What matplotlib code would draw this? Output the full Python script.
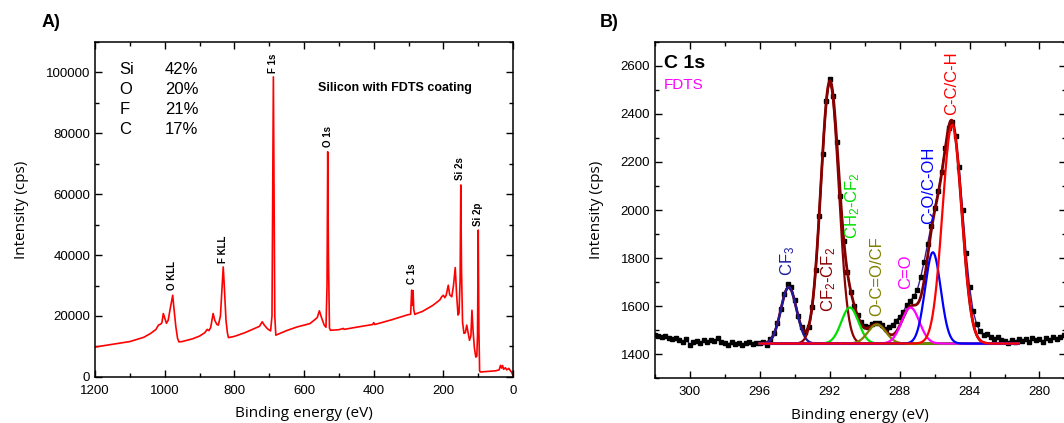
import numpy as np
import matplotlib
matplotlib.use("Agg")
import matplotlib.pyplot as plt
from matplotlib.ticker import MultipleLocator

plt.rcParams['font.family'] = ['Liberation Sans', 'DejaVu Sans']
plt.rcParams['mathtext.fontset'] = 'custom'
plt.rcParams['mathtext.rm'] = 'Liberation Sans'
plt.rcParams['mathtext.it'] = 'Liberation Sans:italic'

# ---------- A) survey spectrum (points read off the figure) ----------
survey_ev = [1200, 1150, 1100, 1060, 1040, 1025, 1018, 1012, 1008, 1004, 999, 995, 990,
             984, 977, 973, 968, 963, 959, 950, 920, 900, 885, 878, 873, 868, 861, 856,
             850, 846, 840, 836, 832, 829, 824, 820, 817, 800, 770, 740, 728, 720, 714,
             705, 696, 692, 690, 688, 686, 684, 681, 675, 650, 620, 583, 570, 562, 556,
             550, 542, 537, 534, 532, 530, 527, 524, 500, 487, 485, 450, 403, 400, 397,
             350, 305, 294, 291, 289, 287, 285, 282, 277, 260, 230, 210, 205, 200, 196,
             192, 186, 182, 176, 171, 166, 162, 158, 155, 152, 150, 148, 145, 141, 137,
             133, 129, 125, 121, 118, 115, 111, 107, 104, 102, 100, 98, 96, 94, 70, 50,
             40, 36, 33, 30, 27, 22, 18, 12, 8, 4, 0]
survey_cps = [9800, 10700, 11600, 13000, 14300, 15600, 17000, 17300, 17800, 20800, 19000, 17600, 18600,
              22500, 26800, 22000, 16500, 12600, 11500, 11600, 12500, 13400, 14500, 15600, 15200, 16200, 20800, 18500,
              17200, 17000, 20000, 28000, 36100, 30000, 18500, 14500, 12900, 13300, 14500, 16000, 16600, 18100, 17000,
              15800, 15100, 20000, 60000, 98500, 60000, 20000, 13700, 14000, 15200, 16400, 17500, 18700, 19500, 21700,
              19500, 17000, 16300, 30000, 73900, 40000, 16000, 15300, 15500, 15900, 15600, 16300, 17200, 17800, 17200,
              18700, 20300, 20600, 28500, 23500, 28300, 22000, 20500, 20800, 21500, 23500, 25300, 26300, 26800, 26000,
              26800, 30100, 27000, 26300, 30000, 35900, 27000, 20300, 21000, 32000, 63000, 35000, 18000, 14300, 14500,
              17000, 14500, 12000, 13500, 21900, 15500, 9500, 6500, 6800, 14000, 48200, 15000, 2000, 1600, 1800, 2000,
              2300, 3800, 2900, 3700, 2500, 3000, 2300, 2800, 2100, 1500, 400]

peak_names = ["O KLL", "F KLL", "F 1s", "O 1s", "C 1s", "Si 2s", "Si 2p"]
peak_label_ev = [980, 833, 689, 532, 289, 151, 100]
peak_label_cps = [28500, 37500, 99800, 75500, 30500, 64500, 49500]

elements = ["Si", "O", "F", "C"]
atomic_pct = ["42%", "20%", "21%", "17%"]
element_cps = [100900, 94300, 87800, 81200]

# ---------- B) C 1s high resolution (0.2 eV steps from 302 eV) ----------
c1s_start, c1s_step = 302.0, 0.2
c1s_cps = [1480, 1476, 1470, 1474, 1466, 1462, 1468, 1458, 1452, 1462,
           1438, 1452, 1455, 1448, 1458, 1452, 1460, 1456, 1468, 1450,
           1446, 1440, 1452, 1444, 1448, 1440, 1446, 1450, 1442, 1448,
           1446, 1450, 1440, 1462, 1488, 1530, 1590, 1650, 1690, 1680,
           1625, 1560, 1512, 1494, 1515, 1595, 1750, 1975, 2235, 2455,
           2545, 2475, 2285, 2060, 1870, 1740, 1660, 1602, 1562, 1532,
           1518, 1512, 1526, 1530, 1528, 1520, 1505, 1512, 1522, 1540,
           1555, 1575, 1605, 1620, 1640, 1665, 1720, 1785, 1860, 1935,
           2010, 2080, 2160, 2260, 2340, 2368, 2310, 2180, 2000, 1820,
           1680, 1580, 1525, 1495, 1478, 1482, 1472, 1462, 1470, 1458,
           1455, 1448, 1458, 1452, 1462, 1455, 1462, 1450, 1466, 1458,
           1464, 1452, 1468, 1460, 1470, 1462, 1472, 1478]

background_cps = 1444
fit_range = (296.0, 281.2)
comp_labels = ["CF$_3$", "CF$_2$-CF$_2$", "CH$_2$-CF$_2$", "O-C=O/CF", "C=O", "C-O/C-OH", "C-C/C-H"]
comp_center = [294.35, 292.0, 290.85, 289.3, 287.38, 286.1, 285.0]
comp_height = [235, 1085, 150, 80, 150, 380, 910]
comp_fwhm = [1.05, 1.2, 1.15, 1.2, 1.2, 1.05, 1.3]
comp_colors = ["#1c1ca0", "#8b0000", "#00e000", "#808000", "#ff00ff", "#0000ff", "#ff0000"]
comp_label_ev = [294.43, 292.04, 290.71, 289.29, 287.68, 286.35, 285.04]
comp_label_cps = [1727, 1574, 1880, 1560, 1671, 1940, 2394]

fig = plt.figure(figsize=(10.64, 4.23), dpi=100)
axA = fig.add_axes([0.0893, 0.109, 0.3929, 0.792])
axB = fig.add_axes([0.6156, 0.106, 0.3860, 0.795])

# panel A
axA.plot(survey_ev, survey_cps, color="red", lw=1.2)
axA.set_xlim(1200, 0)
axA.set_ylim(0, 110000)
axA.xaxis.set_major_locator(MultipleLocator(200))
axA.xaxis.set_minor_locator(MultipleLocator(100))
axA.yaxis.set_major_locator(MultipleLocator(20000))
axA.yaxis.set_minor_locator(MultipleLocator(10000))
for name, x, y in zip(peak_names, peak_label_ev, peak_label_cps):
    axA.text(x, y, name, rotation=90, ha="center", va="bottom", fontsize=7, fontweight="bold")
for el, pct, y in zip(elements, atomic_pct, element_cps):
    axA.text(1130, y, el, fontsize=12, va="center")
    axA.text(1000, y, pct, fontsize=12, va="center")
axA.text(338, 94900, "Silicon with FDTS coating", fontsize=9, fontweight="bold", ha="center", va="center")
axA.set_xlabel("Binding energy (eV)", family="Open Sans", fontsize=11, labelpad=7)
axA.set_ylabel("Intensity (cps)", family="Open Sans", fontsize=11, labelpad=12)

# panel B
energy = c1s_start - c1s_step * np.arange(len(c1s_cps))
axB.plot(energy, c1s_cps, color="#3d1f8f", lw=1.0, marker="s", ms=2.6,
         mfc="black", mec="black", zorder=2)
xfit = np.linspace(fit_range[0], fit_range[1], 600)
comps = [h * np.exp(-4 * np.log(2) * (xfit - c) ** 2 / w ** 2)
         for c, h, w in zip(comp_center, comp_height, comp_fwhm)]
axB.plot(xfit, background_cps + np.sum(comps, axis=0), color="#800000", lw=2.0, zorder=3)
axB.plot(xfit, np.full_like(xfit, background_cps), color="#000080", lw=1.5, zorder=3)
for comp, col in zip(comps, comp_colors):
    axB.plot(xfit, background_cps + comp, color=col, lw=1.6, zorder=4)
for lab, x, y, col in zip(comp_labels, comp_label_ev, comp_label_cps, comp_colors):
    axB.text(x, y, lab, rotation=90, ha="center", va="bottom", fontsize=12, color=col, zorder=5)
axB.text(301.5, 2610, "C 1s", fontsize=14, fontweight="bold", va="center")
axB.text(301.5, 2519, "FDTS", fontsize=11, color="#ff00ff", va="center")
axB.set_xlim(302, 278.5)
axB.set_ylim(1300, 2700)
axB.xaxis.set_major_locator(MultipleLocator(4))
axB.xaxis.set_minor_locator(MultipleLocator(2))
axB.yaxis.set_major_locator(MultipleLocator(200))
axB.yaxis.set_minor_locator(MultipleLocator(100))
axB.set_xlabel("Binding energy (eV)", family="Open Sans", fontsize=11, labelpad=7)
axB.set_ylabel("Intensity (cps)", family="Open Sans", fontsize=11, labelpad=12)

for ax in (axA, axB):
    ax.tick_params(which="both", direction="in", top=True, right=True, width=1, labelsize=9.5)
    ax.tick_params(which="major", length=5)
    ax.tick_params(which="minor", length=3)
    ax.tick_params(axis="x", which="major", pad=5.5)
    for sp in ax.spines.values():
        sp.set_linewidth(1.1)

fig.text(0.039, 0.946, "A)", fontsize=13, fontweight="bold", va="center")
fig.text(0.564, 0.946, "B)", fontsize=13, fontweight="bold", va="center")

fig.savefig("out.png", dpi=100)
